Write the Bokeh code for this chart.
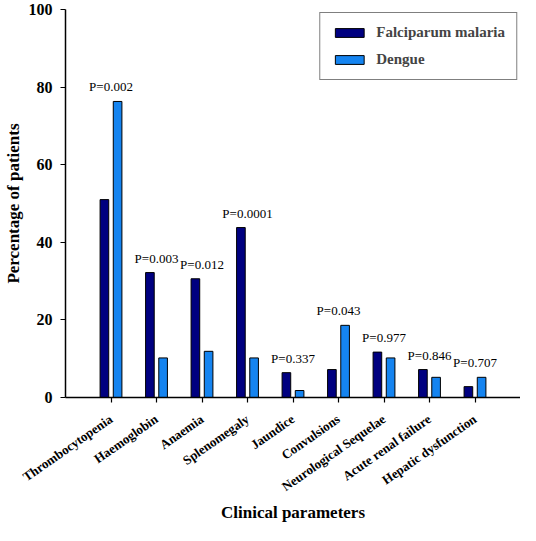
import math
from bokeh.plotting import figure
from bokeh.models import ColumnDataSource, FixedTicker, Range1d, Legend, LegendItem
from bokeh.core.properties import value
from bokeh.embed import file_html
from bokeh.resources import INLINE

categories = ["Thrombocytopenia", "Haemoglobin", "Anaemia", "Splenomegaly", "Jaundice",
              "Convulsions", "Neurological Sequelae", "Acute renal failure", "Hepatic dysfunction"]
malaria = [51.0, 32.2, 30.6, 43.8, 6.4, 7.2, 11.7, 7.2, 2.8]
dengue = [76.3, 10.2, 11.9, 10.2, 1.8, 18.6, 10.2, 5.2, 5.2]
pvalues = ["P=0.002", "P=0.003", "P=0.012", "P=0.0001", "P=0.337",
           "P=0.043", "P=0.977", "P=0.846", "P=0.707"]
y_ticks = [0, 20, 40, 60, 80, 100]

idx = list(range(len(categories)))
src = ColumnDataSource(dict(
    x=idx,
    xm=[i - 0.145 for i in idx],
    xd=[i + 0.145 for i in idx],
    malaria=malaria,
    dengue=dengue,
    top=[max(a, b) for a, b in zip(malaria, dengue)],
    p=pvalues,
))

SERIF = "Liberation Serif"
TNR = "Times New Roman"

p = figure(width=520, height=525, output_backend="svg", toolbar_location=None,
           x_range=Range1d(-1, 9), y_range=Range1d(0, 100),
           min_border_left=0, min_border_right=0, min_border_top=9, min_border_bottom=0)
p.outline_line_color = None
p.xgrid.visible = False
p.ygrid.visible = False
p.background_fill_color = "white"

r1 = p.vbar(x="xm", top="malaria", width=0.19, source=src,
            fill_color="#000080", line_color="black", line_width=1)
r2 = p.vbar(x="xd", top="dengue", width=0.19, source=src,
            fill_color="#1584F0", line_color="black", line_width=1)

p.text(x="x", y="top", text="p", source=src, text_align="center", text_baseline="bottom",
       y_offset=-7, text_font=value(TNR), text_font_size="13px",
       text_color="black")

# axes
p.xaxis.ticker = FixedTicker(ticks=idx)
p.xaxis.major_label_overrides = {i: c for i, c in enumerate(categories)}
p.xaxis.major_label_orientation = 0.61
p.xaxis.major_label_text_font = SERIF
p.xaxis.major_label_text_font_style = "bold"
p.xaxis.major_label_text_font_size = "13px"
p.xaxis.major_label_standoff = 15
p.xaxis.axis_label = "Clinical parameters"

p.yaxis.ticker = FixedTicker(ticks=y_ticks)
p.yaxis.major_label_text_font = SERIF
p.yaxis.major_label_text_font_style = "bold"
p.yaxis.major_label_text_font_size = "16px"
p.yaxis.major_label_standoff = 8
p.yaxis.axis_label = "Percentage of patients"

for ax in (p.xaxis[0], p.yaxis[0]):
    ax.axis_line_color = "black"
    ax.axis_line_width = 1.5
    ax.major_tick_line_color = "black"
    ax.major_tick_line_width = 1.2
    ax.major_tick_out = 5
    ax.major_tick_in = 0
    ax.minor_tick_line_color = None
    ax.major_label_text_color = "black"
    ax.axis_label_text_font = SERIF
    ax.axis_label_text_font_style = "bold"
    ax.axis_label_text_font_size = "17px"
    ax.axis_label_text_color = "black"

p.xaxis.axis_label_standoff = 0
p.yaxis.axis_label_standoff = 3

legend = Legend(items=[LegendItem(label="Falciparum malaria", renderers=[r1]),
                       LegendItem(label="Dengue", renderers=[r2])],
                location="top_right", margin=3)
legend.border_line_color = "black"
legend.border_line_width = 1
legend.background_fill_color = "white"
legend.background_fill_alpha = 1
legend.label_text_font = TNR
legend.label_text_font_style = "bold"
legend.label_text_font_size = "15px"
legend.glyph_width = 36
legend.glyph_height = 11
legend.label_height = 16
legend.spacing = 10
legend.padding = 11
legend.label_standoff = 9
p.add_layout(legend)

open("out.html", "w").write(file_html(p, INLINE))
